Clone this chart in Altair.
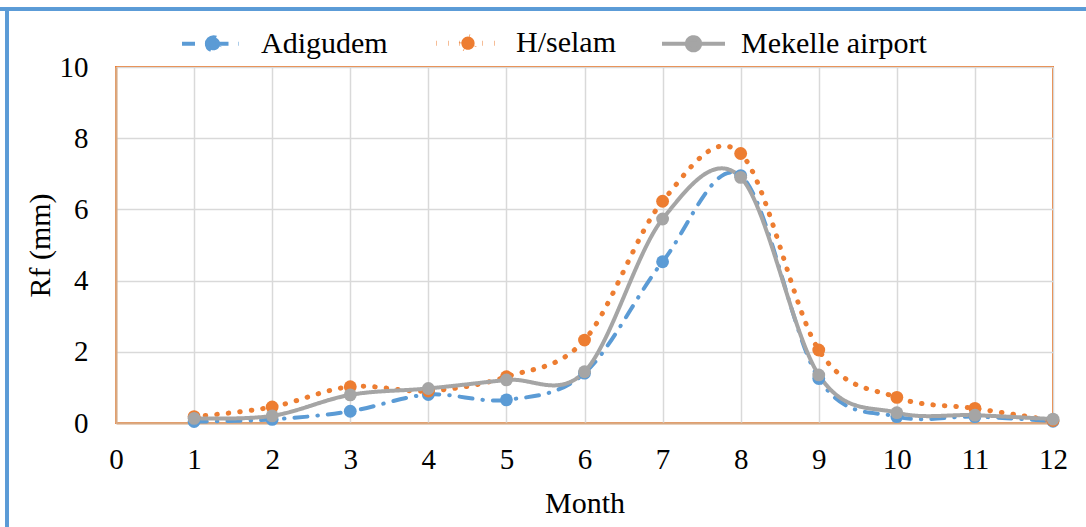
import altair as alt
import pandas as pd

# Monthly mean rainfall per station
months = list(range(1, 13))
stations = ["Adigudem", "H/selam", "Mekelle airport"]
adigudem = [0.04, 0.10, 0.33, 0.80, 0.65, 1.40, 4.53, 6.95, 1.25, 0.18, 0.18, 0.05]
hselam = [0.18, 0.45, 1.02, 0.90, 1.30, 2.33, 6.23, 7.57, 2.05, 0.72, 0.41, 0.07]
mekelle = [0.13, 0.20, 0.79, 0.97, 1.21, 1.44, 5.73, 6.90, 1.35, 0.29, 0.22, 0.11]

colors = ["#5B9BD5", "#ED7D31", "#A5A5A5"]
dashes = [[13, 10, 0.5, 10], [0.5, 11], [1, 0]]
widths = [4, 5, 4]

rows = []
for name, vals in zip(stations, [adigudem, hselam, mekelle]):
    for m, v in zip(months, vals):
        rows.append({"Month": m, "Rf": v, "Station": name})
df = pd.DataFrame(rows)

FONT = "Liberation Serif"

x_enc = alt.X(
    "Month:Q",
    scale=alt.Scale(domain=[0, 12], nice=False),
    axis=alt.Axis(
        values=list(range(0, 13)),
        format="d",
        title="Month",
        titleY=80,
        titleBaseline="middle",
        labelPadding=22,
        labelFlush=False,
        ticks=False,
    ),
)
y_enc = alt.Y(
    "Rf:Q",
    scale=alt.Scale(domain=[0, 10], nice=False),
    axis=alt.Axis(
        values=[0, 2, 4, 6, 8, 10],
        format="d",
        title="Rf (mm)",
        titleX=-76,
        titleBaseline="middle",
        labelPadding=28,
        labelFlush=False,
        ticks=False,
    ),
)

# One legend shared by stroke colour, dash, width and marker fill: line with a dot in the middle
legend = alt.Legend(
    title=None,
    orient="none",
    direction="horizontal",
    legendX=64,
    legendY=-58,
    symbolType="M-1,0L1,0M-0.21,0A0.21,0.21,0,1,1,0.21,0A0.21,0.21,0,1,1,-0.21,0Z",
    symbolSize=3969,
    symbolOffset=0,
    labelFont=FONT,
    labelFontSize=30,
    labelColor="#000000",
    labelOffset=14,
    labelLimit=0,
    columnPadding=38,
)

lines = (
    alt.Chart(df)
    .mark_line(interpolate="cardinal", strokeCap="round")
    .encode(
        x=x_enc,
        y=y_enc,
        color=alt.Color("Station:N", scale=alt.Scale(domain=stations, range=colors), legend=legend),
        strokeDash=alt.StrokeDash("Station:N", scale=alt.Scale(domain=stations, range=dashes), legend=legend),
        strokeWidth=alt.StrokeWidth(
            "Station:N",
            scale=alt.Scale(type="ordinal", domain=stations, range=widths),
            legend=legend,
        ),
        detail="Station:N",
    )
)

points = (
    alt.Chart(df)
    .mark_point(filled=True, opacity=1, size=165, strokeWidth=0)
    .encode(
        x="Month:Q",
        y="Rf:Q",
        fill=alt.Fill("Station:N", scale=alt.Scale(domain=stations, range=colors), legend=legend),
    )
)

# Outer frame: top and left edges of the figure border
frame_top = alt.Chart(df).mark_rule(color="#5B9BD5", strokeWidth=2.5).encode(
    x=alt.value(-116), x2=alt.value(970), y=alt.value(-58)
)
frame_left = alt.Chart(df).mark_rule(color="#5B9BD5", strokeWidth=2.5).encode(
    x=alt.value(-109), y=alt.value(-58), y2=alt.value(460)
)

chart = (
    alt.layer(frame_top, frame_left, lines, points)
    .properties(
        width=937,
        height=356,
        autosize=alt.AutoSizeParams(type="none"),
        padding={"left": 116, "top": 67, "right": 33, "bottom": 104},
        background="#FFFFFF",
    )
    .configure_view(stroke="#ED7D31", strokeWidth=2)
    .configure_legend(labelFont=FONT, labelFontSize=30, labelColor="#000000")
    .configure_axis(
        labelFont=FONT,
        labelFontSize=29,
        labelColor="#000000",
        titleFont=FONT,
        titleFontSize=30,
        titleFontWeight="normal",
        titleColor="#000000",
        grid=True,
        gridColor="#D9D9D9",
        gridWidth=1.5,
        domainColor="#D9A982",
        domainWidth=2,
    )
)

chart.save("out.html", embed_options={"renderer": "svg", "actions": False})
